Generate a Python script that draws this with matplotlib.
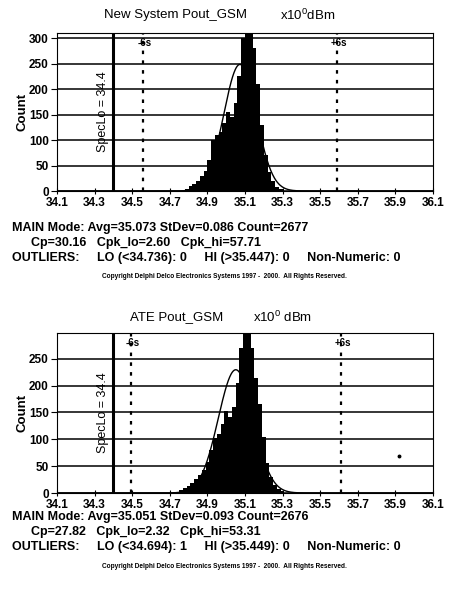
"""Two capability histograms (New System vs ATE) for Pout_GSM."""

import numpy as np
import matplotlib

matplotlib.use("Agg")
import matplotlib.pyplot as plt
from matplotlib.transforms import blended_transform_factory

plt.rcParams["font.family"] = ["Liberation Sans", "DejaVu Sans"]
plt.rcParams["mathtext.fontset"] = "custom"
plt.rcParams["mathtext.rm"] = "Liberation Sans"
plt.rcParams["mathtext.default"] = "regular"

# ---- data ----
BIN_WIDTH = 0.02
SPEC_LO = 34.4

new_centers = [34.79, 34.81, 34.83, 34.85, 34.87, 34.89, 34.91, 34.93, 34.95, 34.97,
               34.99, 35.01, 35.03, 35.05, 35.07, 35.09, 35.11, 35.13, 35.15, 35.17,
               35.19, 35.21, 35.23, 35.25, 35.27, 35.29]
new_counts = [4, 10, 14, 20, 30, 40, 60, 100, 110, 115,
              133, 155, 145, 172, 225, 300, 330, 320, 280, 210,
              130, 70, 38, 20, 8, 3]
new_stats = {"avg": 35.073, "sd": 0.086, "n": 2677, "cp": 30.16, "cpk_lo": 2.60,
             "cpk_hi": 57.71, "lo": 34.736, "hi": 35.447, "n_lo": 0, "n_hi": 0}

ate_centers = [34.74, 34.76, 34.78, 34.80, 34.82, 34.84, 34.86, 34.88, 34.90, 34.92,
               34.94, 34.96, 34.98, 35.00, 35.02, 35.04, 35.06, 35.08, 35.10, 35.12,
               35.14, 35.16, 35.18, 35.20, 35.22, 35.24, 35.26, 35.28, 35.30]
ate_counts = [2, 6, 10, 13, 19, 26, 33, 42, 58, 80,
              102, 110, 128, 153, 141, 160, 205, 270, 300, 300,
              270, 215, 165, 105, 55, 30, 15, 8, 3]
ate_stats = {"avg": 35.051, "sd": 0.093, "n": 2676, "cp": 27.82, "cpk_lo": 2.32,
             "cpk_hi": 53.31, "lo": 34.694, "hi": 35.449, "n_lo": 1, "n_hi": 0}
ate_outlier_x = [35.92]
ate_outlier_y = [68]

x_ticks = [34.1, 34.3, 34.5, 34.7, 34.9, 35.1, 35.3, 35.5, 35.7, 35.9, 36.1]
y_ticks = [0, 50, 100, 150, 200, 250, 300]

COPYRIGHT = "Copyright Delphi Delco Electronics Systems 1997 -  2000.  All Rights Reserved."

W, H = 449, 595


def draw_panel(ax, centers, counts, stats, ymax):
    """Histogram with normal fit, spec limit and +/-6 sigma markers."""
    ax.bar(centers, counts, width=BIN_WIDTH, color="black", linewidth=0, zorder=3)

    # fitted normal, scaled to counts per bin
    xs = np.linspace(34.1, 36.1, 800)
    scale = stats["n"] * BIN_WIDTH / (stats["sd"] * np.sqrt(2 * np.pi))
    ys = scale * np.exp(-0.5 * ((xs - stats["avg"]) / stats["sd"]) ** 2)
    ax.plot(xs, ys, color="black", linewidth=1.0, zorder=4)

    trans = blended_transform_factory(ax.transData, ax.transAxes)

    # spec limit
    ax.axvline(SPEC_LO, color="black", linewidth=2.2, zorder=5)
    ax.text(SPEC_LO - 0.025, 0.5, f"SpecLo = {SPEC_LO}", rotation=90, ha="right",
            va="center", fontsize=9, transform=trans)

    # +/- 6 sigma
    for sign, label in ((-1, "-6s"), (1, "+6s")):
        xv = stats["avg"] + sign * 6 * stats["sd"]
        ax.axvline(xv, color="black", linewidth=1.6, linestyle=(0, (1.6, 2.8)), zorder=2)
        ax.text(xv + 0.01, 0.935, label, ha="center", va="center", fontsize=7,
                fontweight="bold", transform=trans, zorder=6)

    ax.set_xlim(34.1, 36.1)
    ax.set_ylim(0, ymax)
    ax.set_xticks(x_ticks)
    ax.set_xticklabels([f"{t:.1f}" for t in x_ticks], fontsize=8.5, fontweight="bold")
    yt = [t for t in y_ticks if t <= ymax]
    ax.set_yticks(yt)
    ax.set_yticklabels([str(t) for t in yt], fontsize=8.5, fontweight="bold")
    ax.tick_params(axis="x", direction="inout", length=5, width=0.8, pad=2)
    ax.tick_params(axis="y", direction="out", length=4, width=0.8, pad=2)
    ax.grid(axis="y", color="black", linewidth=1.1, zorder=1)
    ax.set_axisbelow(True)
    for sp in ax.spines.values():
        sp.set_linewidth(0.8)
    ax.set_ylabel("Count", fontsize=9.5, fontweight="bold", labelpad=0)


def stats_text(fig, stats, y_px):
    """Three summary lines plus the copyright notice under a panel."""
    line1 = (f"MAIN Mode: Avg={stats['avg']:.3f} StDev={stats['sd']:.3f} "
             f"Count={stats['n']}")
    line2 = (f"Cp={stats['cp']:.2f}   Cpk_lo={stats['cpk_lo']:.2f}   "
             f"Cpk_hi={stats['cpk_hi']:.2f}")
    line3 = (f"OUTLIERS:     LO (<{stats['lo']:.3f}): {stats['n_lo']}     "
             f"HI (>{stats['hi']:.3f}): {stats['n_hi']}     Non-Numeric: 0")
    fig.text(12 / W, 1 - y_px / H, line1, fontsize=9, fontweight="bold", va="center")
    fig.text(31 / W, 1 - (y_px + 15) / H, line2, fontsize=9, fontweight="bold", va="center")
    fig.text(12 / W, 1 - (y_px + 30) / H, line3, fontsize=9, fontweight="bold", va="center")
    fig.text(0.5, 1 - (y_px + 49) / H, COPYRIGHT, fontsize=4.7, fontweight="bold",
             ha="center", va="center")


fig = plt.figure(figsize=(W / 100, H / 100), dpi=100)

ax1 = fig.add_axes([57 / W, 1 - 191 / H, 376 / W, 158 / H])
draw_panel(ax1, new_centers, new_counts, new_stats, 310)
fig.text(175 / W, 1 - 15 / H, "New System Pout_GSM", fontsize=9.5, ha="center", va="center")
fig.text(280 / W, 1 - 15 / H, "x10$^0$dBm", fontsize=9.5, ha="left", va="center")
stats_text(fig, new_stats, 228)

ax2 = fig.add_axes([57 / W, 1 - 493 / H, 376 / W, 160 / H])
draw_panel(ax2, ate_centers, ate_counts, ate_stats, 298)
ax2.plot(ate_outlier_x, ate_outlier_y, "o", color="black", markersize=1.8, zorder=6)
fig.text(177 / W, 1 - 317 / H, "ATE Pout_GSM", fontsize=9.5, ha="center", va="center")
fig.text(253 / W, 1 - 317 / H, "x10$^0$ dBm", fontsize=9.5, ha="left", va="center")
stats_text(fig, ate_stats, 517)

fig.savefig("out.png", dpi=100)
